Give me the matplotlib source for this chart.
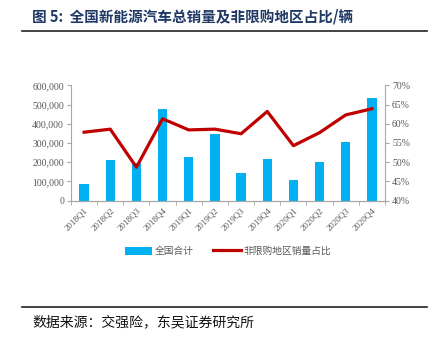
import matplotlib
matplotlib.use("Agg")
import matplotlib.pyplot as plt
from matplotlib.ticker import FuncFormatter, FixedLocator
import numpy as np

plt.rcParams['font.family'] = ['Noto Sans CJK SC', 'DejaVu Sans']

quarters = ["2018Q1", "2018Q2", "2018Q3", "2018Q4", "2019Q1", "2019Q2",
            "2019Q3", "2019Q4", "2020Q1", "2020Q2", "2020Q3", "2020Q4"]
total_sales = [85000, 213000, 195000, 478000, 226000, 349000,
               144000, 217000, 109000, 203000, 304000, 535000]
nonlimit_share = [57.8, 58.6, 48.7, 61.3, 58.4, 58.6,
                  57.4, 63.2, 54.3, 57.7, 62.3, 63.9]

BLUE = "#00B0F0"
RED = "#C00000"
GRAY = "#595959"
SPINE = "#A6A6A6"
serif = "Liberation Serif"

fig = plt.figure(figsize=(4.39, 3.44), dpi=100)
W, H = 439, 344

# header / footer
fig.text(32 / W, 1 - 16 / H, "图 5:  全国新能源汽车总销量及非限购地区占比/辆",
         fontsize=10.5, fontweight="bold", color="#1F3864", va="center", ha="left")
fig.add_artist(plt.Line2D([22 / W, 427 / W], [1 - 31 / H, 1 - 31 / H], color="#222222", lw=1.2))
fig.add_artist(plt.Line2D([22 / W, 427 / W], [1 - 307 / H, 1 - 307 / H], color="#222222", lw=1.2))
fig.text(32 / W, 1 - 322 / H, "数据来源：交强险，东吴证券研究所",
         fontsize=10, color="#111111", va="center", ha="left")

ax = fig.add_axes([71 / W, 1 - 200.7 / H, (385 - 71) / W, (200.7 - 85.3) / H])
x = np.arange(len(quarters))
ax.bar(x, total_sales, width=0.36, color=BLUE, label="全国合计", zorder=2)
ax.set_xlim(-0.5, len(quarters) - 0.5)
ax.set_ylim(0, 600000)
ax.set_yticks(np.arange(0, 600001, 100000))
ax.yaxis.set_major_formatter(FuncFormatter(lambda v, p: f"{int(v):,}"))

ax2 = ax.twinx()
ax2.plot(x, nonlimit_share, color=RED, lw=2.3, label="非限购地区销量占比", zorder=3)
ax2.set_ylim(40, 70)
ax2.set_yticks(np.arange(40, 71, 5))
ax2.yaxis.set_major_formatter(FuncFormatter(lambda v, p: f"{int(v)}%"))

for a in (ax, ax2):
    for s in ("top",):
        a.spines[s].set_visible(False)
    for s in ("left", "right", "bottom"):
        a.spines[s].set_color(SPINE)
        a.spines[s].set_linewidth(0.8)
ax.spines["right"].set_visible(False)
ax2.spines["left"].set_visible(False)

ax.set_xticks(x)
ax.set_xticklabels(quarters, rotation=45, ha="right", rotation_mode="anchor",
                   fontsize=6.5, color=GRAY, family=serif)
ax.tick_params(axis="x", which="major", length=0, pad=4)
ax.xaxis.set_minor_locator(FixedLocator(np.arange(-0.5, len(quarters), 1.0)))
ax.tick_params(axis="x", which="minor", length=3, color=SPINE, direction="out")
ax.tick_params(axis="y", length=3, color=SPINE, labelsize=7, labelcolor=GRAY, pad=2)
ax2.tick_params(axis="y", length=3, color=SPINE, labelsize=7, labelcolor=GRAY, pad=2)
for lbl in ax.get_yticklabels() + ax2.get_yticklabels():
    lbl.set_family(serif)

h1, l1 = ax.get_legend_handles_labels()
h2, l2 = ax2.get_legend_handles_labels()
fig.legend(h1 + h2, l1 + l2, loc="center", bbox_to_anchor=(228 / W, 1 - 251 / H),
           ncol=2, frameon=False, fontsize=7, labelcolor=GRAY,
           handlelength=2.8, handleheight=0.9, columnspacing=2.0, handletextpad=0.3)

fig.savefig("out.png", dpi=100)
